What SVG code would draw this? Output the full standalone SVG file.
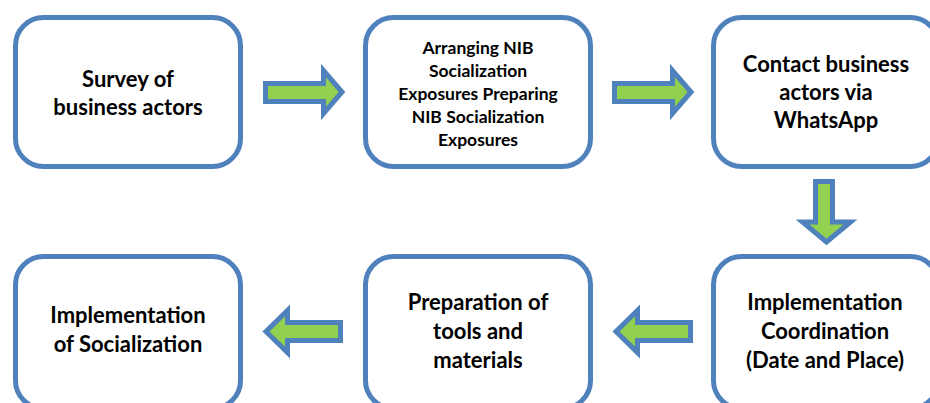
<svg xmlns="http://www.w3.org/2000/svg" width="930" height="403" viewBox="0 0 930 403">
<style>
.box{fill:#fff;stroke:#4F81BD;stroke-width:5}
.arr{fill:#92D050;stroke:#4F81BD;stroke-width:5;stroke-linejoin:miter}
.t{font-family:Lato,"Open Sans","Liberation Sans",sans-serif;font-weight:bold;font-size:22px;fill:#000;text-anchor:middle}
.s{font-size:17.5px}
</style>
<rect width="930" height="403" fill="#fff"/>
<g id="connectors">
<path class="arr" d="M265.5,83.5 H323.5 V70.5 L342,92 L323.5,113.5 V101.5 H265.5 Z"/>
<path class="arr" d="M614.5,83.5 H672.5 V70.5 L691,92 L672.5,113.5 V101.5 H614.5 Z"/>
<path class="arr" d="M815.5,181.5 H832.5 V222 H850.5 L826.5,242 L802.5,222 H815.5 Z"/>
<path class="arr" d="M640.5,322.5 H690.5 V340.5 H637.5 V352.5 L616,331.5 L637.5,310.5 V322.5 Z"/>
<path class="arr" d="M290.5,322.5 H340.5 V340.5 H287.5 V352.5 L266,331.5 L287.5,310.5 V322.5 Z"/>
</g>
<g id="n1">
<rect class="box" x="15.5" y="17.5" width="225" height="149" rx="28"/>
<text class="t" x="128" y="87">Survey of</text>
<text class="t" x="128" y="115">business actors</text>
</g>
<g id="n2">
<rect class="box" x="365.5" y="17.5" width="225" height="149" rx="28"/>
<text class="t s" x="478" y="54">Arranging NIB</text>
<text class="t s" x="478" y="77">Socialization</text>
<text class="t s" x="478" y="100">Exposures Preparing</text>
<text class="t s" x="478" y="123">NIB Socialization</text>
<text class="t s" x="478" y="146">Exposures</text>
</g>
<g id="n3">
<rect class="box" x="713.5" y="17.5" width="225" height="149" rx="28"/>
<text class="t" x="826" y="72">Contact business</text>
<text class="t" x="826" y="100">actors via</text>
<text class="t" x="826" y="128">WhatsApp</text>
</g>
<g id="n4">
<rect class="box" x="15.5" y="256.5" width="225" height="152" rx="28"/>
<text class="t" x="128" y="323">Implementation</text>
<text class="t" x="128" y="352">of Socialization</text>
</g>
<g id="n5">
<rect class="box" x="365.5" y="256.5" width="225" height="152" rx="28"/>
<text class="t" x="478" y="310">Preparation of</text>
<text class="t" x="478" y="339">tools and</text>
<text class="t" x="478" y="368">materials</text>
</g>
<g id="n6">
<rect class="box" x="713.5" y="256.5" width="225" height="152" rx="28"/>
<text class="t" x="825" y="310">Implementation</text>
<text class="t" x="825" y="339">Coordination</text>
<text class="t" x="825" y="368">(Date and Place)</text>
</g>
</svg>
